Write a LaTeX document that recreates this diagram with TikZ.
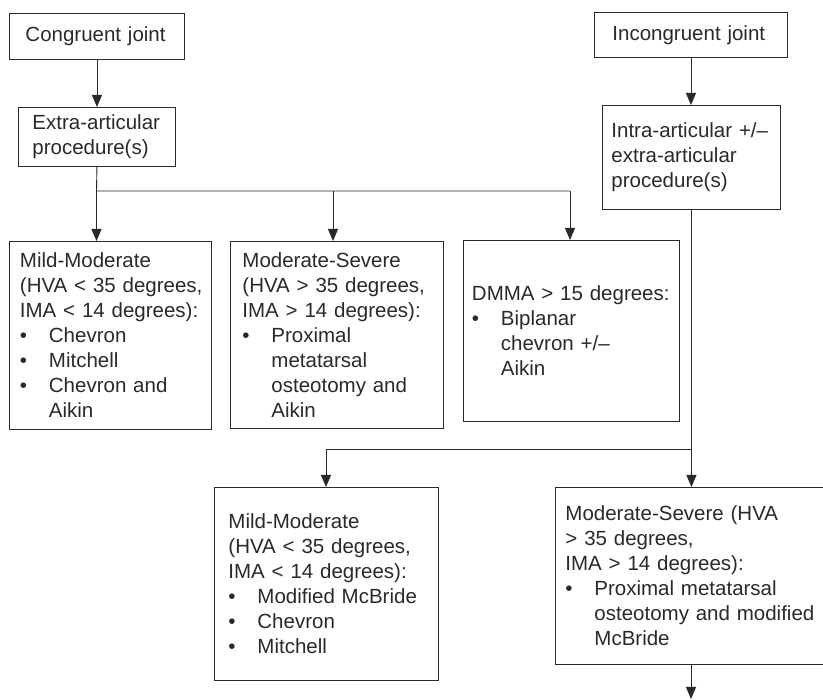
\documentclass[tikz,border=0pt]{standalone}
\usepackage{fontspec}
\setmainfont{Liberation Sans}
\usetikzlibrary{arrows.meta}
\definecolor{ink}{HTML}{2A2A2A}
\newcommand{\bitem}{\makebox[29pt][l]{\textbullet}}
\newcommand{\bcont}{\hspace*{29pt}}
\begin{document}
\begin{tikzpicture}[x=1pt,y=-1pt,
  box/.style={draw=ink, line width=0.9pt, anchor=north west, align=left,
    inner ysep=0pt, text=ink,
    font=\fontsize{20.5pt}{25pt}\selectfont},
  conn/.style={draw=ink, line width=0.9pt},
  arr/.style={conn, -{Triangle[width=10pt,length=12pt]}}]
\useasboundingbox (0,0) rectangle (823,700);
\fill[white] (0,0) rectangle (823,700);

\node[box, inner xsep=16pt, text width=143pt, minimum height=46pt] (cong) at (9,13) {Congruent joint};
\node[box, inner xsep=14pt, text width=129pt, minimum height=59pt] (extra) at (18,107) {Extra-articular\\procedure(s)};
\node[box, inner xsep=18pt, text width=157pt, minimum height=45pt] (incong) at (594,12) {Incongruent joint};
\node[box, inner xsep=9pt, text width=160pt, minimum height=104pt] (intra) at (602,105) {Intra-articular +/\textendash\\extra-articular\\procedure(s)};

\node[box, inner xsep=10.5pt, text width=181pt, minimum height=188pt] (mild1) at (9,241)
  {Mild-Moderate\\\mbox{(HVA < 35 degrees,}\\\mbox{IMA < 14 degrees):}\\\bitem Chevron\\\bitem Mitchell\\\bitem Chevron and\\\bcont Aikin};
\node[box, inner xsep=12pt, text width=189pt, minimum height=187pt] (mod1) at (230,241)
  {Moderate-Severe\\\mbox{(HVA > 35 degrees,}\\\mbox{IMA > 14 degrees):}\\\bitem Proximal\\\bcont metatarsal\\\bcont osteotomy and\\\bcont Aikin};
\node[box, inner xsep=8.5pt, text width=199pt, minimum height=181pt] (dmma) at (463,240)
  {\mbox{DMMA > 15 degrees:}\\\bitem Biplanar\\\bcont chevron +/\textendash\\\bcont Aikin};

\node[box, inner xsep=14pt, text width=196pt, minimum height=193pt] (mild2) at (214,487)
  {Mild-Moderate\\\mbox{(HVA < 35 degrees,}\\\mbox{IMA < 14 degrees):}\\\bitem Modified McBride\\\bitem Chevron\\\bitem Mitchell};
\node[box, inner xsep=10pt, text width=249pt, minimum height=177pt] (mod2) at (555,487)
  {Moderate-Severe (HVA\\> 35 degrees,\\IMA > 14 degrees):\\\bitem Proximal metatarsal\\\bcont osteotomy and modified\\\bcont McBride};

% left branch
\draw[arr] (cong.south) -- (extra.north);
\coordinate (j1) at (96.5,191);
\coordinate (j2) at (570,191);
\draw[conn] (extra.south) -- (j1) -- (j2);
\draw[arr] (j1) -- (j1 |- mild1.north);
\draw[arr] ([xshift=103pt]mod1.north west |- j1) -- ([xshift=103pt]mod1.north west);
\draw[arr] (j2) -- (j2 |- dmma.north);

% right branch
\draw[arr] (incong.south) -- (incong.south |- intra.north);
\coordinate (j3) at (691,449);
\coordinate (j4) at (326,449);
\coordinate (tail) at (691,699);
\draw[arr] (intra.south) -- (intra.south |- mod2.north);
\draw[conn] (j3) -- (j4);
\draw[arr] (j4) -- (j4 |- mild2.north);
\draw[arr] (mod2.south -| j3) -- (tail);
\end{tikzpicture}
\end{document}
